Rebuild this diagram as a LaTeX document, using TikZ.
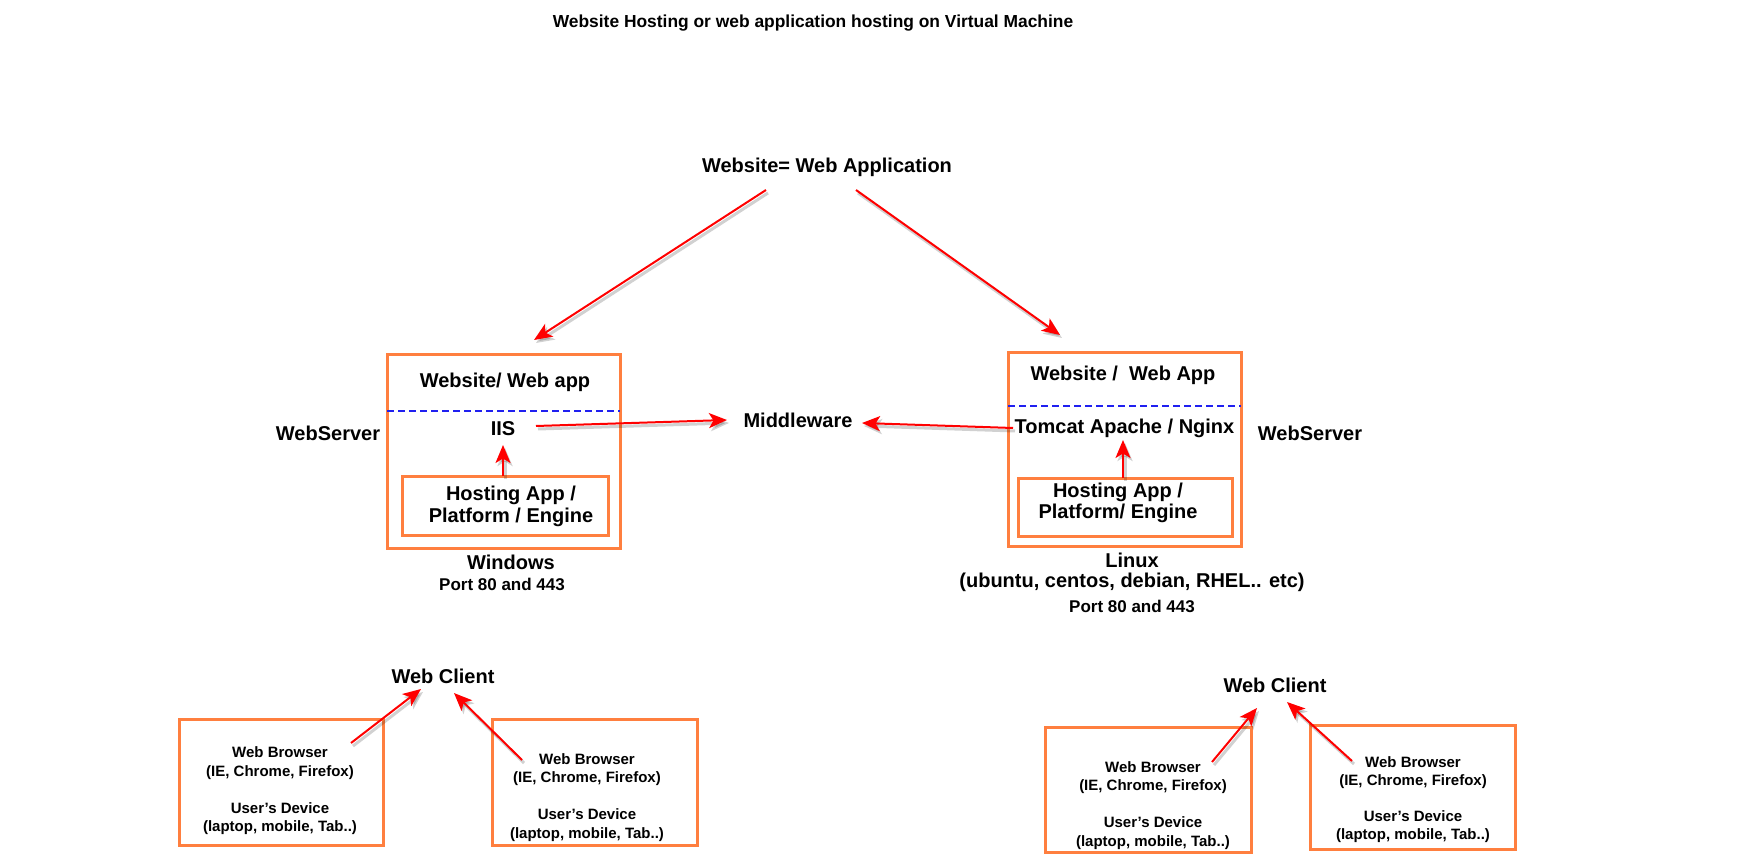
\documentclass[tikz,border=0pt]{standalone}
\usepackage{fontspec}
\setmainfont{Liberation Sans}
\usetikzlibrary{arrows.meta}
\definecolor{boxorange}{HTML}{FF7F3F}
\definecolor{dashblue}{HTML}{2020F0}
\definecolor{arrred}{HTML}{FF0000}
\newcommand\fbig{\fontsize{20}{23}\selectfont\bfseries}
\newcommand\fsmall{\fontsize{15}{18.5}\selectfont\bfseries}
\newcommand\fport{\fontsize{17}{20}\selectfont\bfseries}
\newcommand\ftitle{\fontsize{17.4}{20}\selectfont\bfseries}
\newcommand\sq{\char39\relax}
\tikzset{
  obox/.style={draw=boxorange, line width=3pt},
  lbl/.style={inner sep=0pt, font=\fbig},
  slbl/.style={inner sep=0pt, font=\fsmall, align=center},
  plbl/.style={inner sep=0pt, font=\fport},
  dashline/.style={draw=dashblue, line width=2pt, dash pattern=on 7pt off 4pt},
  arr/.style={draw=arrred, line width=2pt, -{Stealth[length=18pt,width=15pt,inset=4.5pt]},
    preaction={draw=black, opacity=.18, line width=3pt, transform canvas={xshift=2pt,yshift=-3pt}}}
}
\begin{document}
\begin{tikzpicture}[x=1pt,y=-1pt]
\useasboundingbox[fill=white] (0,0) rectangle (1751,858);

% title
\node[inner sep=0pt, font=\ftitle] (title) at (813,23) {Website Hosting or web application hosting on Virtual Machine};
\node[lbl] (site) at (827,167) {Website= Web Application};

% Windows side
\draw[obox] (387,355) rectangle (620,548);
\node[inner sep=0pt, minimum width=233, minimum height=193] (winbox) at (503.5,451.5) {};
\draw[obox] (402,476) rectangle (608,535);
\node[inner sep=0pt, minimum width=206, minimum height=59] (wininner) at (505,505.5) {};
\draw[dashline] (387,411) -- (620,411);
\node[lbl] (winapp) at (505,382) {Website/ Web app};
\node[lbl] (iis) at (503,429) {IIS};
\node[lbl, align=center, font=\fontsize{20}{22}\selectfont\bfseries] (winhost) at (511,506) {Hosting App /\\Platform / Engine};
\node[lbl] (wsL) at (328,433) {WebServer};
\node[lbl] (windows) at (511,562) {Windows};
\node[plbl] (winport) at (502,584) {Port 80 and 443};

% Middleware
\node[lbl] (mw) at (798,420) {Middleware};

% Linux side
\draw[obox] (1008,353) rectangle (1241,546);
\node[inner sep=0pt, minimum width=233, minimum height=193] (linbox) at (1124.5,449.5) {};
\draw[obox] (1018,478) rectangle (1232,536);
\node[inner sep=0pt, minimum width=214, minimum height=58] (lininner) at (1125,507) {};
\draw[dashline] (1008,406) -- (1241,406);
\node[lbl] (linapp) at (1123,375) {Website /\ \ Web App};
\node[lbl] (tomcat) at (1124.5,428) {Tomcat Apache / Nginx};
\node[lbl, align=center, font=\fontsize{20}{21}\selectfont\bfseries] (linhost) at (1118,502.5) {Hosting App /\\Platform/ Engine};
\node[lbl] (wsR) at (1310,433) {WebServer};
\node[lbl] (linux) at (1132,560) {Linux};
\node[lbl] (distros) at (1132,582) {(ubuntu, centos, debian, RHEL.. etc)};
\node[plbl] (linport) at (1132,606) {Port 80 and 443};

% Web clients
\node[lbl] (wcL) at (443,676) {Web Client};
\node[lbl] (wcR) at (1275,685) {Web Client};

\draw[obox] (179,719) rectangle (383,845);
\node[slbl] (devL1) at (280,791) {Web Browser\\(IE, Chrome, Firefox)\\[18.5pt]User\sq s Device\\(laptop, mobile, Tab..)};
\draw[obox] (492,719) rectangle (697,845);
\node[slbl] (devL2) at (587,797.5) {Web Browser\\(IE, Chrome, Firefox)\\[18.5pt]User\sq s Device\\(laptop, mobile, Tab..)};
\draw[obox] (1045,727) rectangle (1251,852);
\node[slbl] (devR1) at (1153,805.5) {Web Browser\\(IE, Chrome, Firefox)\\[18.5pt]User\sq s Device\\(laptop, mobile, Tab..)};
\draw[obox] (1310,725) rectangle (1515,849);
\node[slbl] (devR2) at (1413,799.5) {Web Browser\\(IE, Chrome, Firefox)\\[17pt]User\sq s Device\\(laptop, mobile, Tab..)};

% arrow end points
\coordinate (a1s) at (766,190); \coordinate (a1e) at (534,340);
\coordinate (a2s) at (856,190); \coordinate (a2e) at (1060,335);
\coordinate (a3s) at (536,426); \coordinate (a3e) at (727,420);
\coordinate (a4s) at (1013,428); \coordinate (a4e) at (862,423);
\coordinate (a5s) at (503,476); \coordinate (a5e) at (503,445);
\coordinate (a6s) at (1123,478); \coordinate (a6e) at (1123,440);
\coordinate (a7s) at (351,743); \coordinate (a7e) at (421,689);
\coordinate (a8s) at (522,760); \coordinate (a8e) at (454,693);
\coordinate (a9s) at (1212,762); \coordinate (a9e) at (1257,708);
\coordinate (a10s) at (1352,761); \coordinate (a10e) at (1287,702);

\draw[arr] (a1s) -- (a1e);
\draw[arr] (a2s) -- (a2e);
\draw[arr] (a3s) -- (a3e);
\draw[arr] (a4s) -- (a4e);
\draw[arr] (a5s) -- (a5e);
\draw[arr] (a6s) -- (a6e);
\draw[arr] (a7s) -- (a7e);
\draw[arr] (a8s) -- (a8e);
\draw[arr] (a9s) -- (a9e);
\draw[arr] (a10s) -- (a10e);
\end{tikzpicture}
\end{document}
